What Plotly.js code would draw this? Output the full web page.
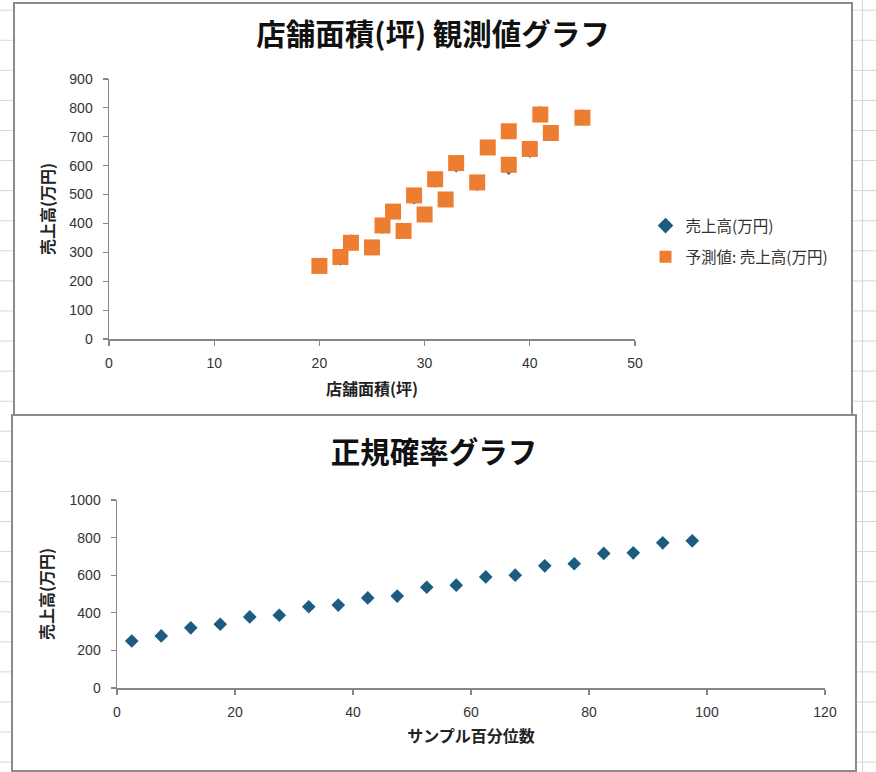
<!DOCTYPE html>
<html><head><meta charset="utf-8">
<script src="https://cdn.plot.ly/plotly-3.0.1.min.js"></script>
<style>
html,body{margin:0;padding:0;width:876px;height:772px;overflow:hidden;background:#fff;}
body{position:relative;background-image:linear-gradient(to bottom,#d6d6d6 0,#d6d6d6 1px,transparent 1px);background-size:100% 30.08px;background-position:0 9.7px;}
#vline{position:absolute;left:862px;top:0;width:1px;height:772px;background:#d6d6d6;}
.box{position:absolute;box-sizing:border-box;border:2px solid #8a8a8a;background:#fff;}
#box1{left:13px;top:2px;width:840px;height:415px;}
#box2{left:11px;top:414px;width:846px;height:358px;}
</style></head>
<body>
<div id="vline"></div>
<div class="box" id="box1"><div id="chart1" style="width:836px;height:411px;"></div></div>
<div class="box" id="box2"><div id="chart2" style="width:842px;height:354px;"></div></div>
<script>
// ---- data ----
const storeArea = [20,22,23,25,26,27,28,29,30,31,32,33,35,36,38,38,40,41,42,45];
const sales = [250,277,339,320,387,441,378,489,432,547,479,600,536,661,591,719,650,783,716,772];
const predictedSales = [253,284,333,317,393,441,374,497,431,553,483,609,542,663,603,719,658,777,713,766];
const percentiles = [2.5,7.5,12.5,17.5,22.5,27.5,32.5,37.5,42.5,47.5,52.5,57.5,62.5,67.5,72.5,77.5,82.5,87.5,92.5,97.5];
const sortedSales = [250,277,320,339,378,387,432,441,479,489,536,547,591,600,650,661,716,719,772,783];

const title1 = '店舗面積(坪) 観測値グラフ';
const title2 = '正規確率グラフ';
const xTitle1 = '店舗面積(坪)';
const yTitle = '売上高(万円)';
const xTitle2 = 'サンプル百分位数';
const seriesObs = '売上高(万円)';
const seriesPred = '予測値: 売上高(万円)';

const blue = '#1B5C80';
const orange = '#ED7D31';
const axisGray = '#868686';
const cjk = '"Noto Sans CJK JP", "Noto Sans", sans-serif';
const latin = '"Liberation Sans", Arial, "Noto Sans CJK JP", sans-serif';

function axis(range, dtick, titleText, standoff, extra) {
  return Object.assign({
    range: range, dtick: dtick, tick0: 0, autorange: false,
    showline: true, linecolor: axisGray, linewidth: 1.5,
    ticks: 'outside', ticklen: 5, tickwidth: 1.2, tickcolor: axisGray,
    showgrid: false, zeroline: false, fixedrange: true,
    tickfont: {family: latin, size: 14, color: '#333'},
    title: {text: titleText, standoff: standoff, font: {family: cjk, size: 16, weight: 'bold', color: '#222'}}
  }, extra || {});
}

const trace1 = {
  x: storeArea, y: sales, type: 'scatter', mode: 'markers', name: seriesObs,
  legendgroup: 'a',
  marker: {symbol: 'diamond', size: 10.5, color: blue}
};
const trace2 = {
  x: storeArea, y: predictedSales, type: 'scatter', mode: 'markers', name: seriesPred,
  legendgroup: 'b',
  marker: {symbol: 'square', size: 16, color: orange}
};

const layout1 = {
  width: 836, height: 411,
  margin: {l: 94, r: 216, t: 75, b: 76},
  paper_bgcolor: '#fff', plot_bgcolor: '#fff',
  title: {text: title1, x: 0.5, xref: 'container', xanchor: 'center', y: 0.925, yref: 'container', yanchor: 'middle',
          font: {family: cjk, size: 29.5, weight: 'bold', color: '#111'}},
  xaxis: axis([0, 50], 10, xTitle1, 13, {ticklabelstandoff: 6}),
  yaxis: axis([0, 900], 100, yTitle, 10, {ticklabelstandoff: 7}),
  showlegend: true,
  legend: {x: 1.02, xanchor: 'left', y: 0.5, yanchor: 'top', tracegroupgap: 8,
           font: {family: cjk, size: 15.5, color: '#333'}, itemsizing: 'constant', bgcolor: 'rgba(0,0,0,0)'}
};

const trace3 = {
  x: percentiles, y: sortedSales, type: 'scatter', mode: 'markers', name: seriesObs,
  marker: {symbol: 'diamond', size: 10.5, color: blue}
};

const layout2 = {
  width: 842, height: 354,
  margin: {l: 104, r: 30, t: 84, b: 82},
  paper_bgcolor: '#fff', plot_bgcolor: '#fff',
  title: {text: title2, x: 0.5, xref: 'container', xanchor: 'center', y: 0.8955, yref: 'container', yanchor: 'middle',
          font: {family: cjk, size: 29.5, weight: 'bold', color: '#111'}},
  xaxis: axis([0, 120], 20, xTitle2, 11, {ticklabelstandoff: 6}),
  yaxis: axis([0, 1000], 200, yTitle, 12, {ticklabelstandoff: 7}),
  showlegend: false
};

Plotly.newPlot('chart1', [trace1, trace2], layout1, {displayModeBar: false, staticPlot: true});
Plotly.newPlot('chart2', [trace3], layout2, {displayModeBar: false, staticPlot: true});
</script>
</body></html>
